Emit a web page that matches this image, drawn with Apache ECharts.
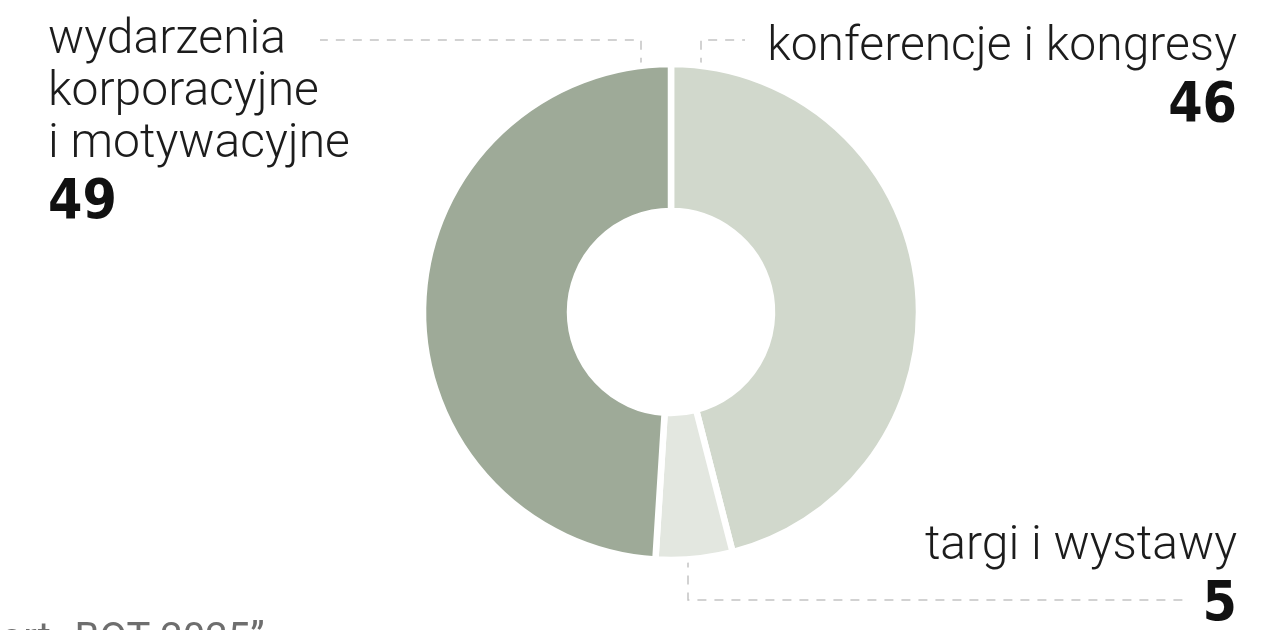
<!DOCTYPE html>
<html><head><meta charset="utf-8">
<script src="https://cdn.jsdelivr.net/npm/echarts@6/dist/echarts.min.js"></script>
<style>html,body{margin:0;padding:0;background:#fff}#c{width:1286px;height:630px}</style>
</head><body><div id="c"></div>
<script>
const categories = ['konferencje i kongresy', 'targi i wystawy', 'wydarzenia\nkorporacyjne\ni motywacyjne'];
const values = [46, 5, 49];
const colors = ['#d1d8cc', '#e3e7e0', '#9eaa98'];
const sourceNote = 'port „BOT 2025”';

const chart = echarts.init(document.getElementById('c'));
const cx = 671, cy = 312, R = 248;

// label anchor settings (layout only)
const labelPos = [
  {x: 1237, y: 22, align: 'right'},
  {x: 1237, y: 521, align: 'right'},
  {x: 48, y: 15, align: 'left'}
];
function arcPoint(dx, top) {
  const dy = Math.sqrt(245 * 245 - dx * dx);
  return [cx + dx, top ? cy - dy - 2 : cy + dy + 2];
}
const linePts = [
  (() => { const p = arcPoint(30, true); return [p, [p[0], 40], [745, 40]]; })(),
  (() => { const p = arcPoint(17, false); return [p, [p[0], 600], [1185, 600]]; })(),
  (() => { const p = arcPoint(-30, true); return [p, [p[0], 40], [320, 40]]; })()
];

chart.setOption({
  backgroundColor: '#fff',
  animation: false,
  graphic: [{
    type: 'text', left: -22, top: 621,
    style: {text: sourceNote, font: '40px Roboto', fill: '#555', opacity: 0.85}
  }],
  series: [{
    type: 'pie',
    center: [cx, cy],
    radius: [101, R],
    startAngle: 90,
    clockwise: true,
    itemStyle: {borderColor: '#fff', borderWidth: 6.5},
    label: {
      show: true,
      position: 'outside',
      overflow: 'none',
      formatter: p => '{n|' + p.name + '}\n{v|' + p.value + '}',
      rich: {
        n: {fontFamily: 'Roboto', fontWeight: 300, fontSize: 48, lineHeight: 52, color: '#1c1c1c'},
        v: {fontFamily: '"DejaVu Sans Condensed", sans-serif', fontWeight: 'bold', fontSize: 55, lineHeight: 66, color: '#111'}
      }
    },
    labelLine: {show: true, lineStyle: {color: '#c4c4c4', width: 1.5, type: [9, 8]}},
    labelLayout: function (params) {
      const i = params.dataIndex;
      const lp = labelPos[i];
      return {x: lp.x, y: lp.y, align: lp.align, verticalAlign: 'top', labelLinePoints: linePts[i]};
    },
    data: categories.map((c, i) => ({
      name: c, value: values[i],
      itemStyle: {color: colors[i]},
      label: {align: labelPos[i].align, width: 600, overflow: 'none'}
    }))
  }]
});
</script></body></html>
